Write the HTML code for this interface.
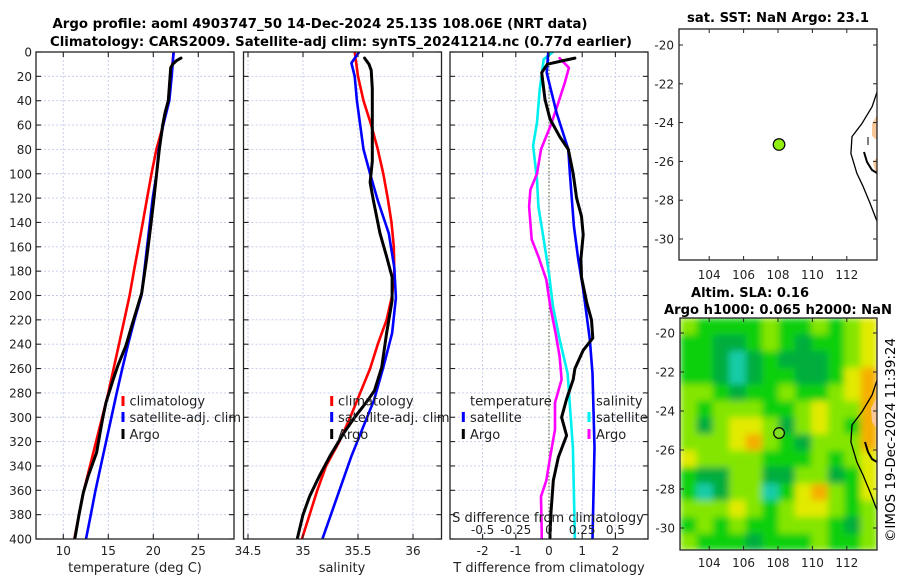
<!DOCTYPE html>
<html><head><meta charset="utf-8"><style>
html,body{margin:0;padding:0;background:#fff;}
svg{display:block;font-family:"DejaVu Sans","Liberation Sans",sans-serif;}
</style></head><body>
<svg id="chart" width="900" height="580" viewBox="0 0 900 580" xmlns="http://www.w3.org/2000/svg">
<defs>
<clipPath id="c1"><rect x="36" y="52" width="198" height="487"/></clipPath>
<clipPath id="c2"><rect x="243.5" y="52" width="198" height="487"/></clipPath>
<clipPath id="c3"><rect x="450" y="52" width="198" height="487"/></clipPath>
<clipPath id="cm1"><rect x="679" y="29" width="198" height="231"/></clipPath>
<clipPath id="cm2"><rect x="680" y="318" width="197" height="232"/></clipPath>
<filter id="blur" x="0" y="0" width="1" height="1"><feGaussianBlur stdDeviation="3.5" edgeMode="duplicate"/></filter>
</defs>
<text x="320" y="28" text-anchor="middle" font-size="13" font-weight="bold" textLength="535" lengthAdjust="spacingAndGlyphs">Argo profile: aoml 4903747_50 14-Dec-2024 25.13S 108.06E (NRT data)</text>
<text x="341" y="46" text-anchor="middle" font-size="13" font-weight="bold" textLength="582" lengthAdjust="spacingAndGlyphs">Climatology: CARS2009. Satellite-adj clim: synTS_20241214.nc (0.77d earlier)</text>
<text x="778" y="22" text-anchor="middle" font-size="13" font-weight="bold" textLength="182" lengthAdjust="spacingAndGlyphs">sat. SST: NaN Argo: 23.1</text>
<text x="750" y="297" text-anchor="middle" font-size="13" font-weight="bold" textLength="118" lengthAdjust="spacingAndGlyphs">Altim. SLA: 0.16</text>
<text x="778" y="314" text-anchor="middle" font-size="13" font-weight="bold" textLength="228" lengthAdjust="spacingAndGlyphs">Argo h1000: 0.065 h2000: NaN</text>
<text transform="translate(895,440) rotate(-90)" text-anchor="middle" font-size="13" textLength="204" lengthAdjust="spacingAndGlyphs">©IMOS 19-Dec-2024 11:39:24</text>
</svg>
<script>
// ---------- data ----------
const depthStd = [0,20,40,60,80,100,120,140,160,180,200,220,240,260,280,300,320,340,360,380,400];
const tempClim = [22.25,22.0,21.65,21.1,20.35,19.8,19.31,18.83,18.34,17.85,17.37,16.78,16.19,15.59,15.0,14.32,13.64,12.97,12.29,11.75,11.22];
const tempSat = [22.25,22.04,21.78,21.1,20.6,20.37,19.93,19.62,19.31,19.0,18.68,17.9,17.2,16.55,15.93,15.35,14.76,14.17,13.58,13.05,12.52];
const argoTDepth = [5,7,10,13,20,40,50,60,80,100,120,143,170,198,225,241,258,270,288,300,313,329,348,362,380,399];
const argoTemp = [23.08,22.6,22.15,21.93,21.87,21.67,21.3,21.04,20.67,20.37,20.08,19.71,19.25,18.71,17.6,16.97,16.04,15.5,14.74,14.4,14.08,13.7,12.78,12.22,11.75,11.3];
const salClim = [35.47,35.50,35.55,35.62,35.68,35.73,35.77,35.805,35.825,35.83,35.81,35.76,35.68,35.61,35.52,35.43,35.33,35.21,35.13,35.06,34.99];
const salSatDepth = [0,9,20,40,60,80,100,122,149,177,202,231,259,286,332,399];
const salSat = [35.51,35.44,35.47,35.49,35.52,35.55,35.61,35.68,35.78,35.83,35.845,35.81,35.73,35.645,35.44,35.18];
const argoSDepth = [5,10,15,30,60,90,107,122,149,168,185,204,231,259,278,286,300,313,332,348,365,380,399];
const argoSal = [35.56,35.6,35.62,35.63,35.63,35.63,35.61,35.64,35.70,35.76,35.81,35.81,35.76,35.715,35.65,35.59,35.47,35.37,35.245,35.15,35.06,35.0,34.95];
const dTArgoDepth = [5,7,10,17,39,55,70,80,100,120,135,150,170,185,205,220,235,245,260,269,285,300,315,333,352,378,395,400];
const dTArgo = [0.78,0.45,-0.05,-0.22,-0.12,0.03,0.33,0.58,0.73,0.83,0.98,1.03,0.96,0.98,1.13,1.28,1.32,1.03,0.78,0.73,0.53,0.38,0.53,0.28,0.13,0.06,0.03,0.03];
const dTSatDepth = [0,17,50,80,100,143,170,195,236,264,325,400];
const dTSat = [-0.02,-0.07,0.23,0.58,0.63,0.75,0.88,1.03,1.23,1.31,1.37,1.31];
const dSSatDepth = [0,6,31,58,77,105,127,154,182,209,236,264,325,400];
const dSSat = [0.03,-0.04,-0.07,-0.09,-0.12,-0.09,-0.08,-0.04,0,0.03,0.08,0.14,0.18,0.195];
const dSArgoDepth = [5,13,25,45,61,80,100,113,127,154,168,187,209,231,250,269,288,310,333,352,365,395,400];
const dSArgo = [0.08,0.15,0.12,0.06,0.01,-0.06,-0.09,-0.14,-0.15,-0.13,-0.08,-0.02,0.01,0.05,0.08,0.095,0.045,0.045,0.008,-0.02,-0.06,-0.055,-0.055];
const depthTicks = [0,20,40,60,80,100,120,140,160,180,200,220,240,260,280,300,320,340,360,380,400];
const tempTicks = [10,15,20,25];
const salTicks = [34.5,35,35.5,36];
const dTTicks = [-2,-1,0,1,2];
const dSTicks = [-0.5,-0.25,0,0.25,0.5];
const dSTickLabels = ['-0.5','-0.25','0','0.25','0.5'];
const lonTicks = [104,106,108,110,112];
const latTicks = [-20,-22,-24,-26,-28,-30];
const argoLon = 108.06;
const argoLat = -25.13;
const coastLon = [113.9,113.76,113.47,112.88,112.3,112.24,112.59,112.94,113.35,113.64,113.8,113.9];
const coastLat = [-22.2,-22.41,-23.18,-24.05,-24.72,-25.59,-26.62,-27.28,-28.15,-28.82,-29.18,-29.3];
// SLA level grid (0 teal .. 5 orange), rows north->south
const slaLevels = [
[3,2,2,2,2,3,2,2,3,2,3,4],
[2,2,1,1,2,3,2,1,2,2,3,4],
[2,2,1,0,1,2,1,1,1,2,3,4],
[2,2,1,0,1,2,2,1,1,2,4,5],
[3,3,2,1,2,2,3,2,2,3,4,5],
[3,2,3,3,3,2,2,3,4,3,3,5],
[3,1,3,4,4,3,1,3,4,3,2,5],
[3,3,3,4,5,3,2,1,3,3,3,5],
[4,3,3,3,3,2,2,2,3,2,3,4],
[2,1,1,3,3,1,1,3,3,1,2,4],
[2,0,1,3,3,0,2,4,5,3,2,4],
[3,3,3,4,3,2,3,4,4,3,2,3],
[2,3,2,3,2,2,3,3,3,2,1,3],
[3,2,2,2,1,2,2,2,3,2,2,3]];
const slaColors = ['#18cca8','#00ad3c','#10d010','#84e600','#e2ea00','#f5ae00'];

// ---------- scales ----------
const yD = d => 52 + d*1.2175;
const xT = t => 63.3 + (t-10)*9;
const xS = s => 303 + (s-35)*110;
const xdT = v => 549 + v*33.2;
const xdS = v => 549 + v*132.8;
const lonX = lon => 778 + (lon-108)*17.2;
const lat1Y = lat => 45 + (-20-lat)*19.4;
const lat2Y = lat => 333 + (-20-lat)*19.5;

const NS='http://www.w3.org/2000/svg';
const svg=document.getElementById('chart');
function mk(tag, attrs, parent, name, inter){
  const e=document.createElementNS(NS,tag);
  for(const k in attrs) e.setAttribute(k,attrs[k]);
  
  
  (parent||svg).appendChild(e);
  return e;
}
function txt(x,y,s,anchor,size,parent,name){
  const t=mk('text',{x:x,y:y,'text-anchor':anchor,'font-size':size,fill:'#222'},parent,name,false);
  t.textContent=s; return t;
}
function line(xs,ys,color,w,parent,name){
  const pts=xs.map((x,i)=>x.toFixed(1)+','+ys[i].toFixed(1)).join(' ');
  return mk('polyline',{points:pts,fill:'none',stroke:color,'stroke-width':w,'stroke-linejoin':'round','stroke-linecap':'round'},parent,name,false);
}
function panel(x0,x1,clip,name,xticks,xfn){
  const g=mk('g',{},svg,name,false);
  mk('rect',{x:x0,y:52,width:x1-x0,height:487,fill:'#fff'},g,name+'-background',false);
  const gg=mk('g',{stroke:'#c4cbe8','stroke-width':0.9,'stroke-dasharray':'2,2'},g,name+'-grid',false);
  depthTicks.forEach(d=>{ if(d>0&&d<400) mk('line',{x1:x0,x2:x1,y1:yD(d),y2:yD(d)},gg,'grid-h-line',false); });
  xticks.forEach(v=>{ mk('line',{x1:xfn(v),x2:xfn(v),y1:52,y2:539},gg,'grid-v-line',false); });
  return g;
}
function frame(g,x0,x1,xticks,xfn,name){
  mk('rect',{x:x0,y:52,width:x1-x0,height:487,fill:'none',stroke:'#222','stroke-width':1.3},g,name+'-frame',false);
  const tg=mk('g',{stroke:'#222','stroke-width':1.1},g,name+'-ticks',false);
  depthTicks.forEach(d=>{
    mk('line',{x1:x0,x2:x0+5,y1:yD(d),y2:yD(d)},tg,'y-tick',false);
    mk('line',{x1:x1-5,x2:x1,y1:yD(d),y2:yD(d)},tg,'y-tick',false);
  });
  xticks.forEach(v=>{
    mk('line',{x1:xfn(v),x2:xfn(v),y1:539,y2:534},tg,'x-tick',false);
    mk('line',{x1:xfn(v),x2:xfn(v),y1:52,y2:57},tg,'x-tick',false);
  });
}
function legendMark(g,x,y,color,name){
  mk('rect',{x:x-1.5,y:y-5,width:3,height:10,fill:color},g,name,false);
}

// ---------- panel 1: temperature ----------
const p1=panel(36,234,'c1','temperature-panel',tempTicks,xT);
const l1=mk('g',{'clip-path':'url(#c1)'},p1,'temperature-lines',false);
line(tempClim.map(xT),depthStd.map(yD),'#ff0000',2.6,l1,'temp-climatology-line');
line(tempSat.map(xT),depthStd.map(yD),'#0000ff',2.6,l1,'temp-satellite-line');
line(argoTemp.map(xT),argoTDepth.map(yD),'#000',3,l1,'temp-argo-line');
frame(p1,36,234,tempTicks,xT,'temperature-panel');
depthTicks.forEach(d=>txt(32,yD(d)+4.5,String(d),'end',12,p1,'depth-tick-label'));
tempTicks.forEach(v=>txt(xT(v),555,String(v),'middle',12,p1,'temp-tick-label'));
txt(135,572,'temperature (deg C)','middle',13,p1,'temperature-axis-title');
legendMark(p1,123,401,'#ff0000','legend-climatology-marker');
txt(129.5,405.5,'climatology','start',13,p1,'legend-climatology');
legendMark(p1,123,417,'#0000ff','legend-satellite-marker');
txt(129.5,422,'satellite-adj. clim','start',13,p1,'legend-satellite-adj-clim');
legendMark(p1,123,434,'#000','legend-argo-marker');
txt(129.5,439,'Argo','start',13,p1,'legend-argo');

// ---------- panel 2: salinity ----------
const p2=panel(243.5,441.5,'c2','salinity-panel',salTicks,xS);
const l2=mk('g',{'clip-path':'url(#c2)'},p2,'salinity-lines',false);
line(salClim.map(xS),depthStd.map(yD),'#ff0000',2.6,l2,'sal-climatology-line');
line(salSat.map(xS),salSatDepth.map(yD),'#0000ff',2.6,l2,'sal-satellite-line');
line(argoSal.map(xS),argoSDepth.map(yD),'#000',3,l2,'sal-argo-line');
frame(p2,243.5,441.5,salTicks,xS,'salinity-panel');
salTicks.forEach(v=>txt(xS(v),555,String(v),'middle',12,p2,'salinity-tick-label'));
txt(342,572,'salinity','middle',13,p2,'salinity-axis-title');
legendMark(p2,331.7,401,'#ff0000','legend-climatology-marker');
txt(338,405.5,'climatology','start',13,p2,'legend-climatology');
legendMark(p2,331.7,417,'#0000ff','legend-satellite-marker');
txt(338,422,'satellite-adj. clim','start',13,p2,'legend-satellite-adj-clim');
legendMark(p2,331.7,434,'#000','legend-argo-marker');
txt(338,439,'Argo','start',13,p2,'legend-argo');

// ---------- panel 3: differences ----------
const p3=panel(450,648,'c3','difference-panel',dTTicks,xdT);
mk('line',{x1:549,x2:549,y1:52,y2:539,stroke:'#4a5a2a','stroke-width':1,'stroke-dasharray':'1.5,2'},p3,'zero-line',false);
const l3=mk('g',{'clip-path':'url(#c3)'},p3,'difference-lines',false);
line(dSSat.map(xdS),dSSatDepth.map(yD),'#00f0f0',2.6,l3,'sal-diff-satellite-line');
line(dSArgo.map(xdS),dSArgoDepth.map(yD),'#ff00ff',2.6,l3,'sal-diff-argo-line');
line(dTSat.map(xdT),dTSatDepth.map(yD),'#0000ff',2.6,l3,'temp-diff-satellite-line');
line(dTArgo.map(xdT),dTArgoDepth.map(yD),'#000',3,l3,'temp-diff-argo-line');
frame(p3,450,648,dTTicks,xdT,'difference-panel');
dTTicks.forEach(v=>txt(xdT(v),555,String(v),'middle',12,p3,'temp-diff-tick-label'));
txt(549,572,'T difference from climatology','middle',13,p3,'temp-diff-axis-title');
txt(548,522,'S difference from climatology','middle',13,p3,'sal-diff-axis-title');
dSTicks.forEach((v,i)=>txt(xdS(v),534,dSTickLabels[i],'middle',12,p3,'sal-diff-tick-label'));
txt(470,405.5,'temperature','start',13,p3,'legend-temperature-header');
legendMark(p3,463.3,417,'#0000ff','legend-temp-satellite-marker');
txt(470,422,'satellite','start',13,p3,'legend-temp-satellite');
legendMark(p3,463.3,434,'#000','legend-temp-argo-marker');
txt(470,439,'Argo','start',13,p3,'legend-temp-argo');
txt(596,405.5,'salinity','start',13,p3,'legend-salinity-header');
legendMark(p3,589,417,'#00f0f0','legend-sal-satellite-marker');
txt(596,422,'satellite','start',13,p3,'legend-sal-satellite');
legendMark(p3,589,434,'#ff00ff','legend-sal-argo-marker');
txt(596,439,'Argo','start',13,p3,'legend-sal-argo');

// ---------- maps ----------
function mapAxes(g,x0,y0,w,h,latY,lonLabelY,name){
  mk('rect',{x:x0,y:y0,width:w,height:h,fill:'none',stroke:'#222','stroke-width':1.3},g,name+'-frame',false);
  const tg=mk('g',{stroke:'#222','stroke-width':1},g,name+'-ticks',false);
  lonTicks.forEach(v=>{
    mk('line',{x1:lonX(v),x2:lonX(v),y1:y0,y2:y0+4},tg,'lon-tick',false);
    mk('line',{x1:lonX(v),x2:lonX(v),y1:y0+h,y2:y0+h-4},tg,'lon-tick',false);
    txt(lonX(v),lonLabelY,String(v),'middle',12,g,'lon-tick-label');
  });
  latTicks.forEach(v=>{
    const y=latY(v);
    if(y<y0||y>y0+h) return;
    mk('line',{x1:x0,x2:x0+4,y1:y,y2:y},tg,'lat-tick',false);
    mk('line',{x1:x0+w-4,x2:x0+w,y1:y,y2:y},tg,'lat-tick',false);
    txt(x0-5,y+4.5,String(v),'end',12,g,'lat-tick-label');
  });
}
function coast(g,latY,name){
  const xs=coastLon.map(lonX), ys=coastLat.map(latY);
  line(xs,ys,'#000',1.3,g,name);
}
// map 1 (SST)
const m1=mk('g',{},svg,'sst-map',false);
mk('rect',{x:679,y:29,width:198,height:231,fill:'#fff'},m1,'sst-map-background',false);
const m1c=mk('g',{'clip-path':'url(#cm1)'},m1,'sst-map-content',false);
mk('polygon',{points:'878,113 872,124 872,136 878,141',fill:'#f8c898'},m1c,'land-patch',false);
mk('polygon',{points:'878,156 873,162 875,170 878,176',fill:'#f8c898'},m1c,'land-patch',false);
coast(m1c,lat1Y,'sst-coastline');
mk('polyline',{points:'864,152 867,162 872,170 877,173',fill:'none',stroke:'#000','stroke-width':2},m1c,'coast-detail',false);
mk('polyline',{points:'868,137 868,145',fill:'none',stroke:'#000','stroke-width':1},m1c,'coast-detail',false);
mk('circle',{cx:lonX(argoLon),cy:lat1Y(argoLat),r:5.8,fill:'#90ee10',stroke:'#000','stroke-width':1.2},m1c,'argo-location-sst',true);
mapAxes(m1,679,29,198,231,lat1Y,279,'sst-map');

// map 2 (SLA)
const m2=mk('g',{},svg,'sla-map',false);
const m2c=mk('g',{'clip-path':'url(#cm2)'},m2,'sla-map-content',false);
const hm=mk('g',{filter:'url(#blur)'},m2c,'sla-heatmap',false);
const nR=slaLevels.length, nC=slaLevels[0].length;
const cw=197/nC, ch=232/nR;
slaLevels.forEach((row,r)=>row.forEach((lv,c)=>{
  mk('rect',{x:(680+c*cw).toFixed(2),y:(318+r*ch).toFixed(2),width:(cw+0.6).toFixed(2),height:(ch+0.6).toFixed(2),fill:slaColors[lv]},hm,'sla-cell',false);
}));
mk('polygon',{points:'878,395 871,408 872,422 878,430',fill:'#f8c898'},m2c,'land-patch',false);
coast(m2c,lat2Y,'sla-coastline');
mk('polyline',{points:'865,442 868,452 872,459 877,462',fill:'none',stroke:'#000','stroke-width':2},m2c,'coast-detail',false);
mk('circle',{cx:lonX(argoLon),cy:lat2Y(argoLat),r:5.3,fill:'#80dd20',stroke:'#000','stroke-width':1.2},m2c,'argo-location-sla',true);
mapAxes(m2,680,318,197,232,lat2Y,567,'sla-map');
</script>
</body></html>
